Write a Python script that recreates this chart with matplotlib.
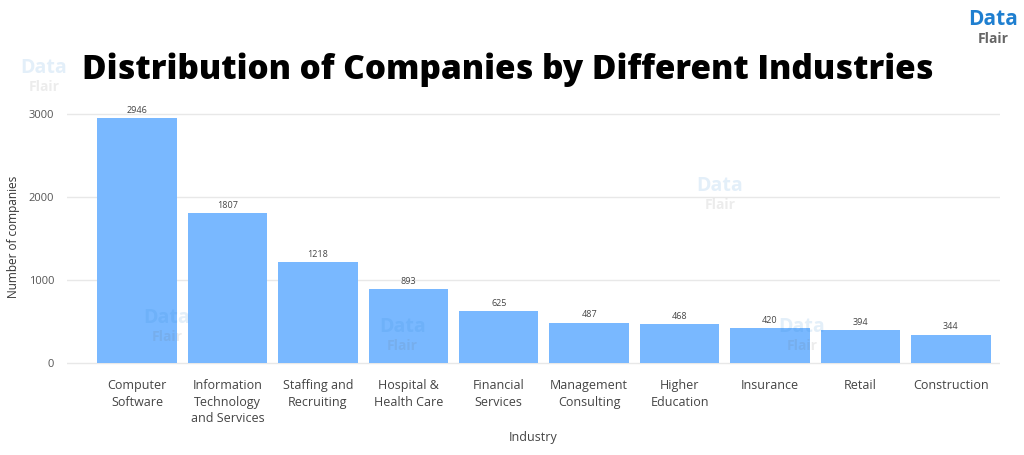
import matplotlib.pyplot as plt

industries = ["Computer\nSoftware", "Information\nTechnology\nand Services", "Staffing and\nRecruiting",
              "Hospital &\nHealth Care", "Financial\nServices", "Management\nConsulting",
              "Higher\nEducation", "Insurance", "Retail", "Construction"]
companies = [2946, 1807, 1218, 893, 625, 487, 468, 420, 394, 344]
y_ticks = [0, 1000, 2000, 3000]

plt.rcParams['font.family'] = ['Open Sans', 'DejaVu Sans']

fig = plt.figure(figsize=(10.24, 4.55), dpi=100)
ax = fig.add_axes([0.065, 0.191, 0.912, 0.577])

x = range(len(companies))
bars = ax.bar(x, companies, width=0.88, color='#79b8ff', zorder=2)
for xi, v in zip(x, companies):
    ax.text(xi, v + 40, str(v), ha='center', va='bottom', fontsize=6.5, color='#444444')

ax.set_xlim(-0.78, 9.55)
ax.set_ylim(-60, 3100)
ax.set_yticks(y_ticks)
ax.set_yticklabels([str(t) for t in y_ticks], color='#555555', fontsize=8)
ax.set_xticks(list(x))
ax.set_xticklabels(industries, color='#444444', fontsize=9, linespacing=1.35)
ax.tick_params(axis='x', length=0, pad=8)
ax.tick_params(axis='y', length=0, pad=9)
ax.grid(axis='y', color='#e8e8e8', linewidth=1, zorder=0)
for s in ax.spines.values():
    s.set_visible(False)

ax.set_ylabel("Number of companies", fontsize=8.5, color='#333333', labelpad=6)
ax.set_xlabel("Industry", fontsize=9, color='#444444', labelpad=4)

fig.text(0.496, 0.846, "Distribution of Companies by Different Industries",
         ha='center', va='center', fontsize=24, fontweight='heavy', color='black')

# logo top right
fig.text(0.945, 0.958, "Data", ha='left', va='center', fontsize=15, fontweight='bold', color='#1f7fd0')
fig.text(0.955, 0.915, "Flair", ha='left', va='center', fontsize=10, fontweight='bold', color='#666666')

# faint watermarks
for wx, wy in [(0.02, 0.84), (0.68, 0.58), (0.14, 0.29), (0.37, 0.27), (0.76, 0.27)]:
    fig.text(wx, wy, "Data", fontsize=14, fontweight='bold', color='#1f7fd0', alpha=0.12)
    fig.text(wx + 0.008, wy - 0.04, "Flair", fontsize=10, fontweight='bold', color='#666666', alpha=0.12)

plt.savefig("out.png", dpi=100)
